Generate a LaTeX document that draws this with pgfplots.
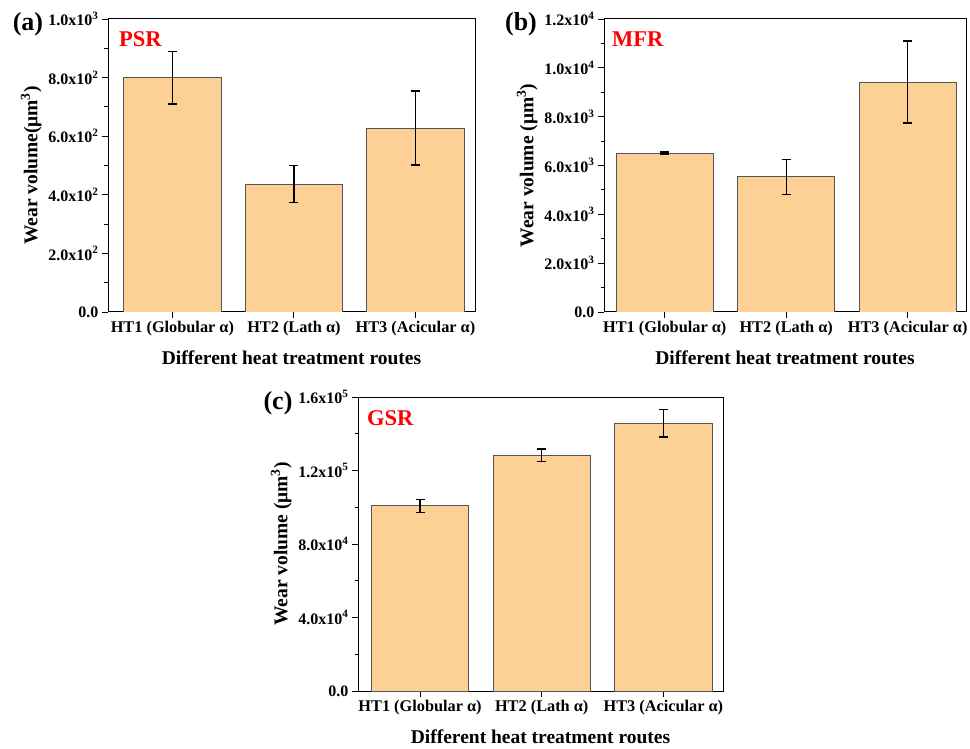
\documentclass[border=0pt]{standalone}
\usepackage{fontspec}
\setmainfont{Liberation Serif}
\usepackage{pgfplots}
\pgfplotsset{compat=1.18}
\definecolor{barfill}{RGB}{253,209,149}
\definecolor{baredge}{RGB}{85,85,85}
\pgfplotsset{
 myaxis/.style={
  scale only axis, anchor=south west,
  ymin=0, scaled y ticks=false,
  xtick={0,1,2},
  xticklabels={HT1 (Globular α),HT2 (Lath α),HT3 (Acicular α)},
  tick align=outside, tick pos=left,
  major tick length=6pt, minor tick length=3.5pt,
  minor y tick num=1,
  every tick/.style={black, line width=0.9pt},
  axis line style={line width=1pt, black},
  yticklabel style={font=\fontsize{16}{18}\selectfont\bfseries},
  xticklabel style={font=\fontsize{16.3}{19}\selectfont\bfseries},
  label style={font=\fontsize{19.5}{22}\selectfont\bfseries},
  xlabel={Different heat treatment routes},
  xlabel style={yshift=-8pt},
 },
 mybar/.style={ybar, bar width=0.8, bar shift=0pt, fill=barfill, draw=baredge, line width=0.8pt,
   error bars/.cd, y dir=both, y explicit,
   error bar style={black, line width=1.2pt},
   error mark options={rotate=90, mark size=4.5pt, line width=1.2pt, black}},
}
\begin{document}
\begin{tikzpicture}
\useasboundingbox (0,0) rectangle (970pt,748pt);
% (a)
\begin{axis}[myaxis, at={(108pt,436pt)}, width=367pt, height=293pt,
  xmin=-0.53, xmax=2.49, ymax=1000,
  ytick={0,200,400,600,800,1000},
  yticklabels={0.0,2.0x10\textsuperscript{2},4.0x10\textsuperscript{2},6.0x10\textsuperscript{2},8.0x10\textsuperscript{2},1.0x10\textsuperscript{3}},
  ylabel={Wear volume(μm\textsuperscript{3})}]
\addplot[mybar] coordinates {(0,800) +- (0,90) (1,437) +- (0,62) (2,628) +- (0,126)};
\end{axis}
% (b)
\begin{axis}[myaxis, at={(604pt,436pt)}, width=362pt, height=293pt,
  xmin=-0.5, xmax=2.48, ymax=12000,
  ytick={0,2000,4000,6000,8000,10000,12000},
  yticklabels={0.0,2.0x10\textsuperscript{3},4.0x10\textsuperscript{3},6.0x10\textsuperscript{3},8.0x10\textsuperscript{3},1.0x10\textsuperscript{4},1.2x10\textsuperscript{4}},
  ylabel={Wear volume (μm\textsuperscript{3})}]
\addplot[mybar] coordinates {(0,6510) +- (0,40) (1,5540) +- (0,720) (2,9420) +- (0,1680)};
\end{axis}
% (c)
\begin{axis}[myaxis, at={(358pt,57pt)}, width=365pt, height=294pt,
  xmin=-0.51, xmax=2.49, ymax=160000,
  ytick={0,40000,80000,120000,160000},
  yticklabels={0.0,4.0x10\textsuperscript{4},8.0x10\textsuperscript{4},1.2x10\textsuperscript{5},1.6x10\textsuperscript{5}},
  ylabel={Wear volume (μm\textsuperscript{3})}]
\addplot[mybar] coordinates {(0,100800) +- (0,3500) (1,128400) +- (0,3300) (2,145800) +- (0,7600)};
\end{axis}
\node[font=\fontsize{26}{30}\selectfont\bfseries] at (28pt,724pt) {(a)};
\node[font=\fontsize{26}{30}\selectfont\bfseries] at (521pt,724pt) {(b)};
\node[font=\fontsize{26}{30}\selectfont\bfseries] at (278pt,345pt) {(c)};
\node[font=\fontsize{22.5}{26}\selectfont\bfseries, text=red, anchor=west, inner sep=0pt] at (119pt,709pt) {PSR};
\node[font=\fontsize{22.5}{26}\selectfont\bfseries, text=red, anchor=west, inner sep=0pt] at (612pt,709pt) {MFR};
\node[font=\fontsize{22.5}{26}\selectfont\bfseries, text=red, anchor=west, inner sep=0pt] at (367pt,330pt) {GSR};
\end{tikzpicture}
\end{document}
